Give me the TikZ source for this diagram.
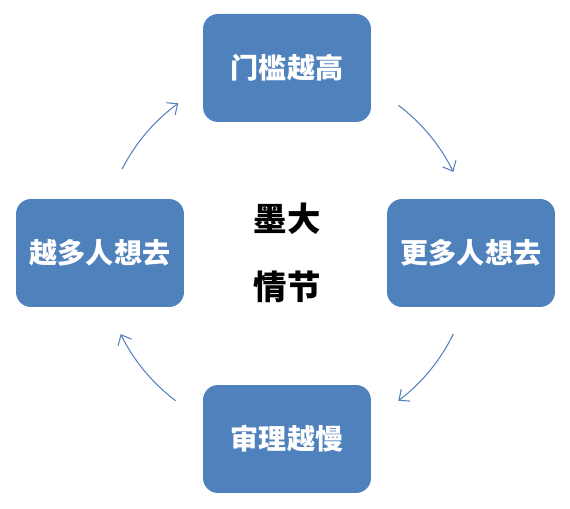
\documentclass[tikz,border=0pt]{standalone}
\usepackage{fontspec}
\usepackage{tikz}
\usetikzlibrary{arrows.meta, positioning, calc}
\newfontfamily\cjk{Noto Sans CJK SC}
\definecolor{boxblue}{RGB}{79, 129, 189}
\definecolor{cyclearrow}{RGB}{84, 130, 190}

\begin{document}
\begin{tikzpicture}[x=0.02cm, y=0.02cm,
    stagebox/.style={rectangle, rounded corners=0.3cm, fill=boxblue,
        minimum width=3.36cm, minimum height=2.16cm, inner sep=0pt,
        text=white, font=\cjk\bfseries\fontsize{16}{20}\selectfont},
    cyclearc/.style={draw=cyclearrow, line width=0.6pt,
        -{Straight Barb[length=1.7mm, width=3mm]}}]

    \useasboundingbox (0, 0) rectangle (570, 509);

    % Centre text
    \node[align=center, font=\cjk\bfseries\fontsize{19}{39}\selectfont] at (287, 256) (modan) {墨大\\情节};

    % Four stages
    \node[stagebox] at (287, 441) (menkan) {门槛越高};
    \node[stagebox] at (471, 256) (gengduo) {更多人想去};
    \node[stagebox] at (287, 70) (shenli) {审理越慢};
    \node[stagebox] at (100, 256) (yueduo) {越多人想去};

    % Arc end points round the centre
    \coordinate (a1) at ($(modan.center) + (153:185)$);
    \coordinate (a2) at ($(modan.center) + (53:185)$);
    \coordinate (a3) at ($(modan.center) + (-26:185)$);
    \coordinate (a4) at ($(modan.center) + (-127:185)$);

    % Cycle arrows
    \draw[cyclearc] (a1) arc[start angle=153, end angle=126, radius=185];
    \draw[cyclearc] (a2) arc[start angle=53, end angle=26, radius=185];
    \draw[cyclearc] (a3) arc[start angle=-26, end angle=-53, radius=185];
    \draw[cyclearc] (a4) arc[start angle=-127, end angle=-154, radius=185];

\end{tikzpicture}
\end{document}
